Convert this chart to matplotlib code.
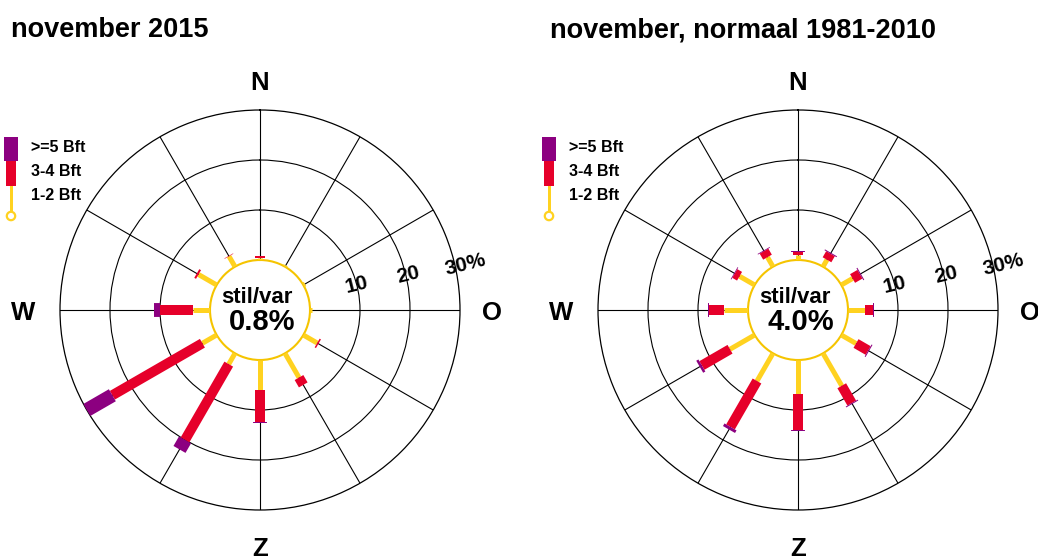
import numpy as np
import matplotlib
matplotlib.use("Agg")
import matplotlib.pyplot as plt
from matplotlib.patches import Rectangle, Circle

plt.rcParams['font.family'] = ['Liberation Sans', 'DejaVu Sans']
plt.rcParams['font.weight'] = 'bold'

# wind directions, clockwise from north (degrees)
directions = [0, 30, 60, 90, 120, 150, 180, 210, 240, 270, 300, 330]
compass = ['N', 'O', 'Z', 'W']
classes = ['>=5 Bft', '3-4 Bft', '1-2 Bft']

# november 2015 (% of hours)
nov2015_12 = [0.5, 0.3, 0.4, 0.3, 3.2, 5.6, 6.0, 2.5, 3.3, 3.5, 4.2, 2.4]
nov2015_34 = [0.3, 0.0, 0.0, 0.0, 0.3, 1.7, 6.3, 17.5, 20.8, 6.6, 0.4, 0.1]
nov2015_5 = [0.0, 0.0, 0.0, 0.0, 0.0, 0.0, 0.3, 2.2, 6.4, 1.1, 0.0, 0.0]
nov2015_calm = 0.8

# november normal 1981-2010
norm_12 = [1.0, 1.6, 2.6, 3.3, 3.4, 7.5, 6.7, 6.4, 5.7, 4.9, 3.5, 2.2]
norm_34 = [0.6, 1.4, 1.7, 1.6, 2.8, 4.0, 7.3, 10.6, 6.5, 2.9, 1.1, 1.4]
norm_5 = [0.15, 0.2, 0.2, 0.2, 0.2, 0.2, 0.2, 0.6, 0.5, 0.15, 0.15, 0.15]
norm_calm = 4.0

rings = [10, 20, 30]

YELLOW = '#FFD220'
CALM = '#F5C400'
RED = '#E6002A'
PURPLE = '#8C0080'

W, H = 1038, 556
fig = plt.figure(figsize=(W / 100, H / 100), dpi=100)

# overlay in pixel coordinates for titles and legends
over = fig.add_axes([0, 0, 1, 1])
over.set_xlim(0, W)
over.set_ylim(H, 0)
over.axis('off')


def legend(x0):
    over.add_patch(Rectangle((x0 + 4, 137), 14, 24, color=PURPLE, lw=0))
    over.add_patch(Rectangle((x0 + 6, 161), 10, 25, color=RED, lw=0))
    over.add_patch(Rectangle((x0 + 9.5, 186), 3, 26, color=YELLOW, lw=0))
    over.add_patch(Circle((x0 + 11, 216), 4.2, fc='white', ec=YELLOW, lw=1.6))
    for i, lab in enumerate(classes):
        over.text(x0 + 31, 147 + i * 24.5, lab, fontsize=11.5, va='center', ha='left')


def rose(left_px, title, title_x, s12, s34, s5, calm):
    ax = fig.add_axes([left_px / W, 46 / H, 400 / W, 400 / H], projection='polar')
    ax.set_theta_zero_location('N')
    ax.set_theta_direction(-1)
    ax.set_rorigin(-10)
    ax.set_ylim(0, 30)
    ax.set_rticks(rings[:-1])
    ax.set_thetagrids(directions)
    ax.set_xticklabels([])
    ax.set_yticklabels([])
    ax.grid(True, color='black', lw=0.8)
    ax.spines['polar'].set_color('black')
    ax.spines['polar'].set_linewidth(0.9)
    ax.spines['inner'].set_color(CALM)
    ax.spines['inner'].set_linewidth(1.5)
    ax.tick_params(length=0)

    th = np.deg2rad(directions)
    for t, a, b, c in zip(th, s12, s34, s5):
        base = 0.0
        for val, col, lw in [(a, YELLOW, 3.6), (b, RED, 7.2), (c, PURPLE, 10.0)]:
            if val > 0:
                ax.plot([t, t], [base, base + val], color=col, lw=lw,
                        solid_capstyle='butt', zorder=3)
            base += val

    # ring labels
    for lab, ang, rr in [('10', 75.5, 10.0), ('20', 76.7, 20.4), ('30%', 77.6, 32.0)]:
        ax.text(np.deg2rad(ang), rr, lab, fontsize=15, rotation=14,
                ha='center', va='center', rotation_mode='anchor', zorder=4)

    # compass labels
    for lab, ang, rr in zip(compass, [0, 90, 180, 270], [36.0, 36.4, 37.3, 37.4]):
        ax.text(np.deg2rad(ang), rr, lab, fontsize=18.5, ha='center', va='center_baseline')
    for t in ax.texts:
        t.set_clip_on(False)

    ax.text(0.4925, 0.5175, 'stil/var', transform=ax.transAxes, fontsize=16,
            ha='center', va='baseline')
    ax.text(0.506, 0.45, '%.1f%%' % calm, transform=ax.transAxes, fontsize=21,
            ha='center', va='baseline')

    over.text(title_x, 37, title, fontsize=19.5, ha='left', va='baseline')


rose(60, 'november 2015', 11, nov2015_12, nov2015_34, nov2015_5, nov2015_calm)
rose(598, 'november, normaal 1981-2010', 550, norm_12, norm_34, norm_5, norm_calm)
legend(0)
legend(538)

fig.savefig('out.png', dpi=100)
